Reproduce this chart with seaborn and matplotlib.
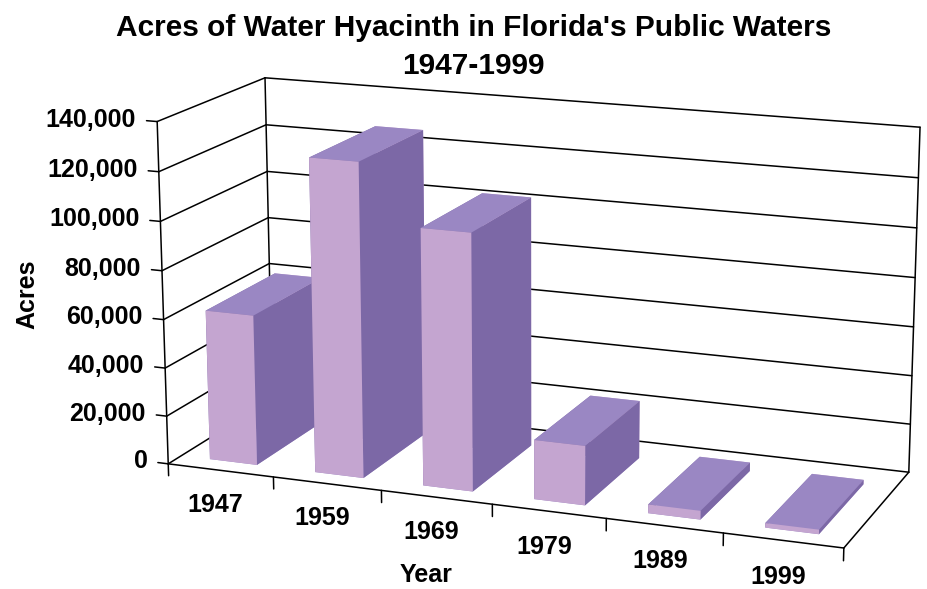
# Water hyacinth acreage in Florida, 3-D column chart
import matplotlib
matplotlib.use("Agg")
import matplotlib.pyplot as plt
import seaborn as sns
import numpy as np
from mpl_toolkits.mplot3d import proj3d

years = ["1947", "1959", "1969", "1979", "1989", "1999"]
acres = [62000, 128000, 104000, 24000, 3500, 1800]
acre_ticks = [0, 20000, 40000, 60000, 80000, 100000, 120000, 140000]

sns.set_style("white")
plt.rcParams['font.family'] = ['Liberation Sans', 'DejaVu Sans']
plt.rcParams['font.weight'] = 'bold'
plt.rcParams['text.color'] = 'black'

front_col = "#c4a5d0"
top_col = "#9a87c3"
side_col = "#7c68a6"

fig = plt.figure(figsize=(9.27, 5.89), dpi=100)
# Axes3D keeps a square frame, so make it big enough not to clip the box
ax = fig.add_axes([0.125, -0.222, 0.8846, 1.392], projection='3d', computed_zorder=False)
ax.set_proj_type('persp', focal_length=0.7)
ax.view_init(elev=15, azim=-69)
ax.set_box_aspect((7, 2.4, 3.5), zoom=0.985)

n = len(years)
xpos = np.arange(n)
bw = 0.45
y0, y1 = 0.12, 0.78
xl, xr = -0.5, n - 0.5
ax.set_xlim(xl, xr)
ax.set_ylim(0, 1)
ax.set_zlim(0, acre_ticks[-1])

# one colour per face: bottom, top, front, back, left, right
face_cols = [top_col, top_col, front_col, front_col, side_col, side_col] * n
ax.bar3d(xpos - bw / 2, np.full(n, y0), np.zeros(n), bw, y1 - y0, acres,
         color=face_cols, shade=False, edgecolor='none', zorder=3)

# gridlines on left and back walls, tick labels on the front-left edge
M = ax.get_proj()
for t in acre_ticks:
    ax.plot([xl, xl], [0, 1], [t, t], color='black', lw=1.1, zorder=1)
    ax.plot([xl, xr], [1, 1], [t, t], color='black', lw=1.1, zorder=1)
    ax.plot([xl, xl - 0.1], [0, 0], [t, t], color='black', lw=1.1, zorder=2)
    px, py, _ = proj3d.proj_transform(xl - 0.2, 0, t, M)
    ax.text2D(px, py, f"{t:,}", transform=ax.transData, ha='right', va='center',
              fontsize=18, fontweight='bold')
# wall / floor edges
ax.plot([xl, xl], [1, 1], [0, acre_ticks[-1]], color='black', lw=1.1, zorder=1)
ax.plot([xr, xr], [1, 1], [0, acre_ticks[-1]], color='black', lw=1.1, zorder=1)
ax.plot([xr, xr], [0, 1], [0, 0], color='black', lw=1.1, zorder=1)
ax.plot([xl, xr], [0, 0], [0, 0], color='black', lw=1.1, zorder=2)
ax.plot([xl, xl], [0, 0], [0, acre_ticks[-1]], color='black', lw=1.1, zorder=2)
# category boundary ticks on the front edge
for b in np.arange(n + 1) - 0.5:
    ax.plot([b, b], [0, 0], [0, -5000], color='black', lw=1.1, zorder=2)

# panes and built-in axis lines off
for a in (ax.xaxis, ax.yaxis, ax.zaxis):
    a.set_pane_color((1, 1, 1, 0))
    a.pane.set_edgecolor('none')
    a.line.set_color('none')
    a._axinfo['tick']['inward_factor'] = 0
    a._axinfo['tick']['outward_factor'] = 0
ax.grid(False)
ax.set_yticks([])
ax.set_zticks([])

ax.set_xticks(xpos, labels=years)
ax.tick_params(axis='x', labelsize=18, pad=9, labelcolor='black')

fig.text(0.511, 0.939, "Acres of Water Hyacinth in Florida's Public Waters",
         ha='center', va='baseline', fontsize=21.5, fontweight='bold')
fig.text(0.511, 0.874, "1947-1999",
         ha='center', va='baseline', fontsize=21.5, fontweight='bold')
fig.text(0.030, 0.50, "Acres", rotation=90, ha='center', va='center',
         fontsize=18, fontweight='bold')
fig.text(0.46, 0.024, "Year", ha='center', va='center', fontsize=18, fontweight='bold')

fig.savefig("out.png", dpi=100)
